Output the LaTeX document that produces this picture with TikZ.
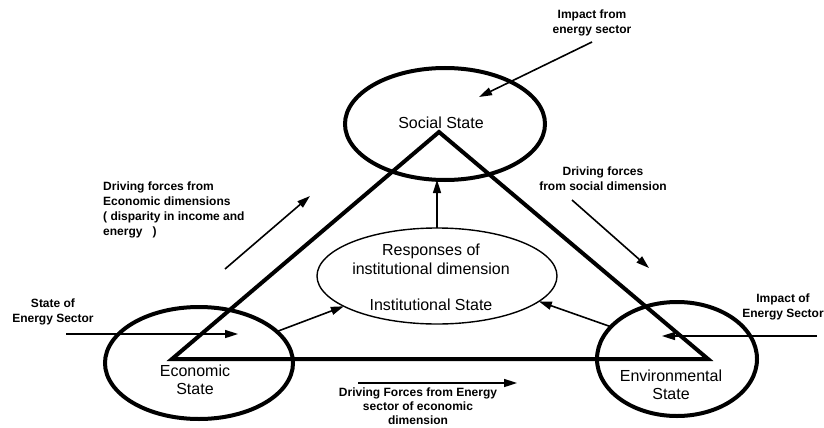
\documentclass[tikz,border=0pt]{standalone}
\usepackage{fontspec}
\setmainfont{Liberation Sans}
\usetikzlibrary{shapes.geometric,arrows.meta}
\tikzset{
  bigellipse/.style={draw, ellipse, line width=4pt, inner sep=0pt, outer sep=0pt},
  instellipse/.style={draw, ellipse, line width=1.4pt, inner sep=0pt, outer sep=0pt},
  biglabel/.style={font=\fontsize{16}{18.5}\selectfont, align=center, inner sep=0pt},
  smalllabel/.style={font=\fontsize{12}{15}\selectfont\bfseries, align=center, inner sep=0pt},
  arr/.style={line width=1.6pt, -{Triangle[length=13pt,width=8pt]}},
  tri/.style={line width=4pt, line join=miter}
}
\begin{document}
\begin{tikzpicture}[x=1pt,y=-1pt]
\useasboundingbox (0,0) rectangle (824,428);
% ellipses
\node[bigellipse, minimum width=200pt, minimum height=112pt] (soc) at (445,124) {};
\node[bigellipse, minimum width=188pt, minimum height=112pt] (eco) at (199,363) {};
\node[bigellipse, minimum width=160pt, minimum height=114pt] (env) at (677,359) {};
\node[instellipse, minimum width=240pt, minimum height=96pt] (inst) at (437,276) {};
% triangle
\coordinate (A) at (439,132);
\coordinate (B) at (172,359);
\coordinate (C) at (708,359);
\draw[tri] (A) -- (B) -- (C) -- cycle;
% state labels
\node[biglabel] (soclbl) at (441,123) {Social State};
\node[biglabel] (ecolbl) at (195,380) {Economic\\State};
\node[biglabel] (envlbl) at (671,385) {Environmental\\State};
\node[biglabel] (resp) at (431,259.5) {Responses of\\institutional dimension};
\node[biglabel] (instlbl) at (431,305) {Institutional State};
% connectors between states
\draw[arr] (inst.north) -- (inst.north |- soc.south);
\draw[arr] (eco.22) -- (inst.198);
\draw[arr] (env.154) -- (inst.346);
% external labels
\node[smalllabel] (impfrom) at (592,22.5) {Impact from\\energy sector};
\node[smalllabel] (drvsoc) at (603,179) {Driving forces\\from social dimension};
\node[smalllabel, align=left, anchor=west] (drveco) at (103,209.5) {Driving forces from\\Economic dimensions\\( disparity in income and\\energy \ \ )};
\node[smalllabel] (stateof) at (53,312) {State of\\Energy Sector};
\node[smalllabel] (impof) at (783,307) {Impact of\\Energy Sector};
\node[smalllabel, font=\fontsize{12}{14}\selectfont\bfseries] (drvenergy) at (418,406.5) {Driving Forces from Energy\\sector of economic\\dimension};
% free arrows
\coordinate (t1) at (592,42);  \coordinate (t2) at (479,97);
\coordinate (s1) at (572,200); \coordinate (s2) at (649,268);
\coordinate (e1) at (225,269); \coordinate (e2) at (310,196);
\coordinate (l1) at (66,334);  \coordinate (l2) at (238,334);
\coordinate (r1) at (817,336); \coordinate (r2) at (662,336);
\coordinate (b1) at (358,383); \coordinate (b2) at (517,383);
\draw[arr] (t1) -- (t2);
\draw[arr] (s1) -- (s2);
\draw[arr] (e1) -- (e2);
\draw[arr] (l1) -- (l2);
\draw[arr] (r1) -- (r2);
\draw[arr] (b1) -- (b2);
\end{tikzpicture}
\end{document}
